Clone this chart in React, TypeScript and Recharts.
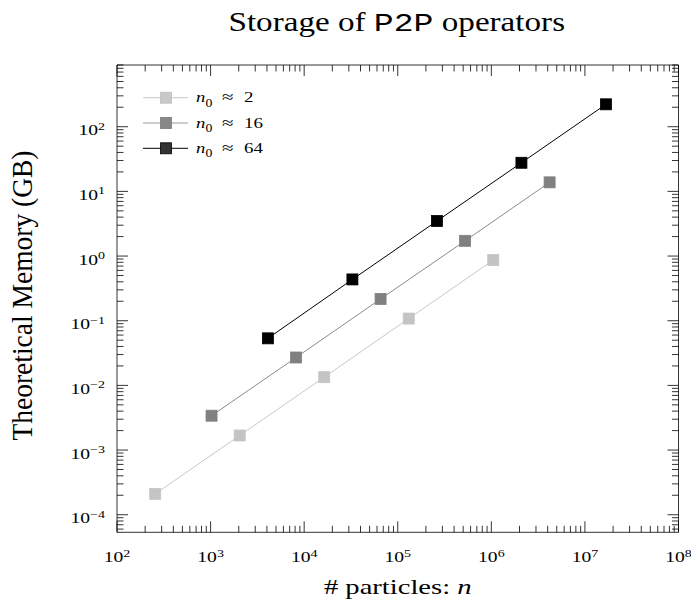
import React from 'react';
import { ScatterChart, Scatter, XAxis, YAxis, Legend } from 'recharts';

// ---- data ----
const n2X = [256, 2048, 16384, 131072, 1048576];
const n2Y = [2.1e-4, 1.68e-3, 1.34e-2, 0.108, 0.866];
const n16X = [1024, 8192, 65536, 524288, 4194304];
const n16Y = [3.4e-3, 2.7e-2, 0.217, 1.72, 13.8];
const n64X = [4096, 32768, 262144, 2097152, 16777216];
const n64Y = [0.0534, 0.435, 3.48, 27.7, 222];

const legendLabels = ['2', '16', '64'];
const xTickExps = [2, 3, 4, 5, 6, 7, 8];
const yTickExps = [-4, -3, -2, -1, 0, 1, 2];
const minorMults = [2, 3, 4, 5, 6, 7, 8, 9];

const X_DOMAIN: [number, number] = [1e2, 1e8];
const Y_DOMAIN: [number, number] = [5.35e-5, 900];

// ---- styling ----
const W = 691;
const H = 604;
const SERIF = '"Liberation Serif", "DejaVu Serif", serif';
const MONO = '"Liberation Mono", "DejaVu Sans Mono", monospace';
const MAJ = 11;
const MIN = 6.5;
const AXIS_W = 0.8;
const TICK_FS = 14;
const TICK_SUP_FS = 10;
const TICK_SX = 1.4;

const series = [
  { x: n2X, y: n2Y, line: '#c8c8c8', fill: '#c4c4c4', stroke: '#c4c4c4', lline: '#c8c8c8', lfill: '#c8c8c8', lstroke: '#bdbdbd' },
  { x: n16X, y: n16Y, line: '#8a8a8a', fill: '#808080', stroke: '#808080', lline: '#9a9a9a', lfill: '#888888', lstroke: '#7a7a7a' },
  { x: n64X, y: n64Y, line: '#000000', fill: '#000000', stroke: '#000000', lline: '#000000', lfill: '#333333', lstroke: '#000000' },
];

function buildTicks(exps: number[], lo: number, hi: number): number[] {
  const out: number[] = [];
  const e0 = exps[0] - 1;
  const e1 = exps[exps.length - 1];
  for (let e = e0; e <= e1; e++) {
    const base = Math.pow(10, e);
    if (base >= lo && base <= hi) out.push(base);
    for (const m of minorMults) {
      const v = m * base;
      if (v >= lo && v <= hi) out.push(v);
    }
  }
  return out;
}

const xTicks = buildTicks(xTickExps, X_DOMAIN[0], X_DOMAIN[1]);
const yTicks = buildTicks(yTickExps, Y_DOMAIN[0], Y_DOMAIN[1]);

function majorExp(v: number): number | null {
  const l = Math.log10(v);
  const e = Math.round(l);
  return Math.abs(l - e) < 1e-6 ? e : null;
}

function expText(e: number): string {
  return e < 0 ? '\u2212' + Math.abs(e) : String(e);
}

// text stretched horizontally to mimic the wide Computer Modern look
const ST = (p: any) => (
  <text
    transform={`translate(${p.x},${p.y}) scale(${p.sx ?? 1},1)`}
    x={0}
    y={0}
    textAnchor={p.anchor ?? 'start'}
    fontFamily={p.family ?? SERIF}
    fontSize={p.size}
    fontStyle={p.italic ? 'italic' : 'normal'}
    fill="#000"
  >
    {p.children}
  </text>
);

const PowLabel = ({ x, y, e, anchor }: any) => (
  <ST x={x} y={y} sx={TICK_SX} size={TICK_FS} anchor={anchor}>
    10
    <tspan dy={-5.5} fontSize={TICK_SUP_FS}>
      {expText(e)}
    </tspan>
  </ST>
);

const BottomTick = (props: any) => {
  const { x, y, payload } = props;
  const e = majorExp(payload.value);
  const major = e !== null;
  return (
    <g>
      <line x1={x} y1={y} x2={x} y2={y - (major ? MAJ : MIN)} stroke="#000" strokeWidth={AXIS_W} />
      {major && <PowLabel x={x} y={y + 29.7} e={e} anchor="middle" />}
    </g>
  );
};

const TopTick = (props: any) => {
  const { x, y, payload } = props;
  const major = majorExp(payload.value) !== null;
  return <line x1={x} y1={y} x2={x} y2={y + (major ? MAJ : MIN)} stroke="#000" strokeWidth={AXIS_W} />;
};

const LeftTick = (props: any) => {
  const { x, y, payload } = props;
  const e = majorExp(payload.value);
  const major = e !== null;
  return (
    <g>
      <line x1={x} y1={y} x2={x + (major ? MAJ : MIN)} y2={y} stroke="#000" strokeWidth={AXIS_W} />
      {major && <PowLabel x={x - 12} y={y + 8.5} e={e} anchor="end" />}
    </g>
  );
};

const RightTick = (props: any) => {
  const { x, y, payload } = props;
  const major = majorExp(payload.value) !== null;
  return <line x1={x} y1={y} x2={x - (major ? MAJ : MIN)} y2={y} stroke="#000" strokeWidth={AXIS_W} />;
};

const squareShape = (fill: string, stroke: string) => (p: any) => (
  <rect x={p.cx - 5.5} y={p.cy - 5.5} width={11} height={11} fill={fill} stroke={stroke} strokeWidth={0.8} />
);

const LEG_LEFT = 140;
const LEG_TOP = 84;

const LegendContent = () => (
  <svg width={140} height={80} style={{ display: 'block', overflow: 'visible' }}>
    {series.map((s, i) => {
      const cy = 13.7 + i * 25.3;
      const by = cy + 4.5;
      return (
        <g key={i}>
          <line x1={3} y1={cy} x2={48} y2={cy} stroke={s.lline} strokeWidth={1} />
          <rect x={20.5} y={cy - 5.5} width={11} height={11} fill={s.lfill} stroke={s.lstroke} strokeWidth={0.8} />
          <ST x={196 - LEG_LEFT} y={by} sx={1.2} size={15.5} italic>
            n
          </ST>
          <ST x={205.5 - LEG_LEFT} y={by + 4.5} sx={1.2} size={11.5}>
            0
          </ST>
          <ST x={222 - LEG_LEFT} y={by} sx={1.35} size={15.5}>
            {'\u2248'}
          </ST>
          <ST x={244 - LEG_LEFT} y={by} sx={1.22} size={15.5}>
            {legendLabels[i]}
          </ST>
        </g>
      );
    })}
  </svg>
);

const toPoints = (xs: number[], ys: number[]) => xs.map((x, i) => ({ x, y: ys[i] }));

export default function App() {
  return (
    <div style={{ position: 'absolute', left: 0, top: 0, width: W, height: H, background: '#fff' }}>
      <ScatterChart width={W} height={H} margin={{ top: 64, right: 11, bottom: 31.7, left: 57 }}>
        <XAxis
          xAxisId="b"
          orientation="bottom"
          dataKey="x"
          type="number"
          scale="log"
          domain={X_DOMAIN}
          allowDataOverflow
          ticks={xTicks}
          interval={0}
          tick={<BottomTick />}
          tickSize={0}
          tickMargin={0}
          tickLine={false}
          axisLine={{ stroke: '#000', strokeWidth: AXIS_W }}
          height={40}
          label={{
            content: (p: any) => {
              const vb = p.viewBox;
              return (
                <ST x={vb.x + vb.width / 2} y={594} sx={1.3} size={22} anchor="middle">
                  {'# particles: '}
                  <tspan fontStyle="italic">n</tspan>
                </ST>
              );
            },
          }}
        />
        <XAxis
          xAxisId="t"
          orientation="top"
          dataKey="x"
          type="number"
          scale="log"
          domain={X_DOMAIN}
          allowDataOverflow
          ticks={xTicks}
          interval={0}
          tick={<TopTick />}
          tickSize={0}
          tickMargin={0}
          tickLine={false}
          axisLine={{ stroke: '#000', strokeWidth: AXIS_W }}
          height={1}
          label={{
            content: (p: any) => {
              const vb = p.viewBox;
              return (
                <ST x={vb.x + vb.width / 2 - 1} y={31} sx={1.26} size={26.3} anchor="middle">
                  {'Storage of '}
                  <tspan fontFamily={MONO}>P2P</tspan>
                  {' operators'}
                </ST>
              );
            },
          }}
        />
        <YAxis
          yAxisId="l"
          orientation="left"
          dataKey="y"
          type="number"
          scale="log"
          domain={Y_DOMAIN}
          allowDataOverflow
          ticks={yTicks}
          interval={0}
          tick={<LeftTick />}
          tickSize={0}
          tickMargin={0}
          tickLine={false}
          axisLine={{ stroke: '#000', strokeWidth: AXIS_W }}
          width={60}
          label={{
            content: () => (
              <text
                transform="translate(32, 295.5) scale(1.1,1) rotate(-90)"
                x={0}
                y={0}
                textAnchor="middle"
                fontFamily={SERIF}
                fontSize={27.5}
                fill="#000"
              >
                Theoretical Memory (GB)
              </text>
            ),
          }}
        />
        <YAxis
          yAxisId="r"
          orientation="right"
          dataKey="y"
          type="number"
          scale="log"
          domain={Y_DOMAIN}
          allowDataOverflow
          ticks={yTicks}
          interval={0}
          tick={<RightTick />}
          tickSize={0}
          tickMargin={0}
          tickLine={false}
          axisLine={{ stroke: '#000', strokeWidth: AXIS_W }}
          width={1.5}
        />
        {series.map((s, i) => (
          <Scatter
            key={i}
            xAxisId="b"
            yAxisId="l"
            data={toPoints(s.x, s.y)}
            line={{ stroke: s.line, strokeWidth: 1 }}
            lineType="joint"
            shape={squareShape(s.fill, s.stroke)}
            isAnimationActive={false}
          />
        ))}
        <Legend
          layout="vertical"
          align="center"
          verticalAlign="middle"
          content={<LegendContent />}
          wrapperStyle={{ position: 'absolute', left: LEG_LEFT, top: LEG_TOP, width: 140, height: 80 }}
        />
      </ScatterChart>
    </div>
  );
}
